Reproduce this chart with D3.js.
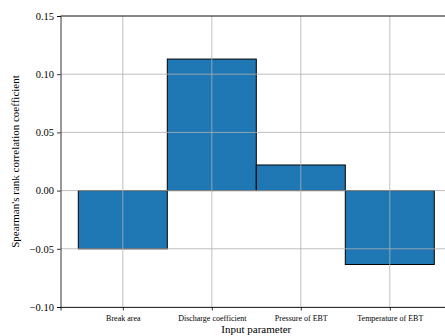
<!DOCTYPE html>
<html>
<head>
<meta charset="utf-8">
<script src="https://cdn.jsdelivr.net/npm/d3@7"></script>
<style>
  body { margin: 0; background: #fff; }
  text { font-family: "Liberation Serif", "DejaVu Serif", serif; fill: #000; }
</style>
</head>
<body>
<div id="chart"></div>
<script>
// data
const params = ['Break area', 'Discharge coefficient', 'Pressure of EBT', 'Temperature of EBT'];
const rhoValues = [-0.050, 0.113, 0.022, -0.0635];
const yTicks = [-0.10, -0.05, 0.00, 0.05, 0.10, 0.15];

const width = 445, height = 336;
const plotLeft = 60.5, plotTop = 16, plotBottom = 307;
const serif = '"Liberation Serif", "DejaVu Serif", serif';

const svg = d3.select('#chart')
    .append('svg')
    .attr('width', width)
    .attr('height', height);

// matplotlib-style x limits: [-0.7, 3.7], right edge falls outside the picture
const x = d3.scaleLinear().domain([-0.7, 3.7]).range([plotLeft, plotLeft + 4.4 * 89]);
const y = d3.scaleLinear().domain([-0.10, 0.15]).range([plotBottom, plotTop]);

// bars
svg.append('g')
    .selectAll('rect')
    .data(rhoValues)
    .enter()
    .append('rect')
    .attr('x', (d, i) => x(i - 0.5))
    .attr('width', (d, i) => x(i + 0.5) - x(i - 0.5))
    .attr('y', d => y(Math.max(0, d)))
    .attr('height', d => Math.abs(y(d) - y(0)))
    .attr('fill', '#1f77b4')
    .attr('stroke', '#000')
    .attr('stroke-width', 1);

// grid drawn above bars
const grid = svg.append('g').attr('stroke', '#b0b0b0').attr('stroke-width', 0.8);
grid.selectAll('.gy')
    .data(yTicks)
    .enter()
    .append('line')
    .attr('x1', plotLeft).attr('x2', width)
    .attr('y1', d => y(d)).attr('y2', d => y(d));
grid.selectAll('.gx')
    .data(params)
    .enter()
    .append('line')
    .attr('x1', (d, i) => x(i)).attr('x2', (d, i) => x(i))
    .attr('y1', plotTop).attr('y2', plotBottom);

// axes
const yAxis = d3.axisLeft(y).tickValues(yTicks).tickSizeOuter(0).tickSize(3.5).tickPadding(3);
const gy = svg.append('g').attr('transform', `translate(${plotLeft},0)`).call(yAxis)
    .attr('font-family', serif).attr('font-size', 10.5);
gy.selectAll('text').text(d => d3.format('.2f')(d).replace('-', '\u2212'));

const xAxis = d3.axisBottom(x).tickValues([0, 1, 2, 3]).tickFormat(i => params[i]).tickSizeOuter(0).tickSize(3.5).tickPadding(5);
svg.append('g').attr('transform', `translate(0,${plotBottom})`).call(xAxis)
    .attr('font-family', serif).attr('font-size', 8);

svg.selectAll('.domain').attr('stroke', '#000').attr('stroke-width', 0.8);
svg.selectAll('.tick line').attr('stroke', '#000').attr('stroke-width', 0.8);

// top spine
svg.append('line')
    .attr('x1', plotLeft).attr('x2', width)
    .attr('y1', plotTop).attr('y2', plotTop)
    .attr('stroke', '#000').attr('stroke-width', 0.8);

// axis labels
svg.append('text')
    .attr('x', (plotLeft + x(3.7)) / 2)
    .attr('y', 333)
    .attr('text-anchor', 'middle')
    .style('font-size', '11px')
    .text('Input parameter');

svg.append('text')
    .attr('transform', `translate(19,${(plotTop + plotBottom) / 2}) rotate(-90)`)
    .attr('text-anchor', 'middle')
    .style('font-size', '11px')
    .text("Spearman's rank correlation coefficient");
</script>
</body>
</html>
